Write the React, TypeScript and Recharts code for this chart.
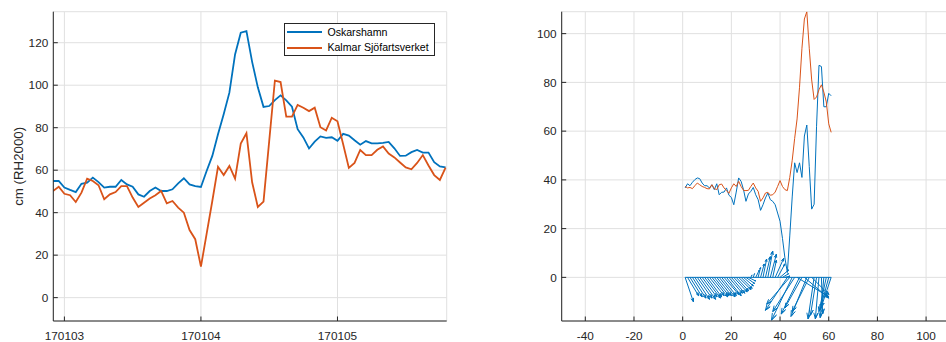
import { LineChart, Line, XAxis, YAxis, CartesianGrid, Legend } from "recharts";

const FONT = '"Liberation Sans", Arial, Helvetica, sans-serif';
const AXIS = "#262626";
const GRID = "#e0e0e0";
const BLUE = "#0072BD";
const ORANGE = "#D95319";

// left panel: hourly sea level, hours counted from 170103 00:00
const HOURS = [
  -2, -1, 0, 1, 2, 3, 4, 5, 6, 7, 8, 9, 10, 11, 12, 13, 14, 15, 16, 17,
  18, 19, 20, 21, 22, 23, 24, 25, 26, 27, 28, 29, 30, 31, 32, 33, 34, 35, 36, 37,
  38, 39, 40, 41, 42, 43, 44, 45, 46, 47, 48, 49, 50, 51, 52, 53, 54, 55, 56, 57,
  58, 59, 60, 61, 62, 63, 64, 65, 66, 67,
];
const OSKARSHAMN = [
  54.9, 54.9, 51.8, 50.7, 49.7, 53.6, 54.1, 56.5, 54.4, 51.8,
  52.2, 52.2, 55.4, 53.3, 52.2, 48.6, 47.5, 50.2, 51.8, 50.2,
  50.2, 51.0, 53.8, 56.2, 53.3, 52.5, 52.1, 59.6, 66.7, 76.9,
  86.3, 96.5, 114.5, 124.7, 125.5, 111, 99, 89.8, 90.2, 93,
  95.2, 92.9, 89.9, 79.3, 75.4, 70.2, 73.4, 75.9, 75.2, 75.5,
  73.8, 77.1, 76.3, 74.1, 72, 73.7, 72.6, 72.6, 72.9, 73.3,
  70.3, 66.7, 66.8, 68.5, 69.5, 68.3, 68.3, 63.8, 61.8, 61.3,
];
const KALMAR = [
  50.2, 52.2, 48.9, 48.2, 45.0, 49.4, 56.0, 54.9, 52.9, 46.3,
  48.6, 49.7, 52.5, 52.5, 47.1, 42.7, 44.7, 46.7, 48.2, 50.2,
  44.4, 45.5, 42.4, 40.0, 31.8, 27.5, 14.6, 30.0, 45.5, 61.6,
  57.7, 62.0, 56.0, 72.5, 77.4, 54.3, 42.7, 45.2, 73.7, 102.2,
  101.5, 85.2, 85.2, 90.7, 89.4, 87.8, 89.4, 80.2, 78.7, 84.7,
  83.0, 72.2, 61.1, 63.4, 69.5, 67.1, 67.1, 69.6, 71.2, 67.8,
  66.0, 63.6, 61.3, 60.4, 63.4, 67.1, 62.2, 57.7, 55.4, 61.2,
];
const SERIES_NAMES = ["Oskarshamn", "Kalmar Sjöfartsverket"];
const DAY_TICKS = [0, 24, 48];
const DAY_LABELS = ["170103", "170104", "170105"];
const LEVEL_TICKS = [0, 20, 40, 60, 80, 100, 120];

// right panel
const STEPS = [
  1, 2, 3, 4, 5, 6, 7, 8, 9, 10, 11, 12, 13, 14, 15, 16, 17, 18, 19, 20,
  21, 22, 23, 24, 25, 26, 27, 28, 29, 30, 31, 32, 33, 34, 35, 36, 37, 38, 39, 40,
  41, 42, 43, 44, 45, 46, 47, 48, 49, 50, 51, 52, 53, 54, 55, 56, 57, 58, 59, 60, 61,
];
const RIGHT_BLUE = [
  36.7, 38.4, 37.6, 39.0, 40.1, 40.8, 40.5, 38.7, 37.6, 37.6,
  36.7, 38.0, 36.0, 38.4, 33.9, 34.9, 35.0, 36.7, 33.7, 32.8,
  29.8, 35.0, 40.8, 39.4, 36.0, 31.2, 34.2, 35.3, 36.9, 33.9,
  31.9, 27.5, 29.8, 32.6, 34.6, 31.9, 31.2, 29.8, 26.4, 23.0,
  16, 8, 2, 17, 33, 47, 43, 47, 41, 58,
  62.5, 45.5, 28, 30, 62, 87, 86.5, 70, 70, 75.5, 74.5,
];
const RIGHT_ORANGE = [
  37.3, 36.7, 36.9, 36.4, 37.6, 38.7, 38.0, 37.3, 36.9, 36.4,
  36.3, 38.0, 36.4, 36.0, 38.0, 38.3, 36.7, 35.6, 34.5, 36.7,
  38.4, 37.3, 39.4, 37.3, 35.7, 35.6, 35.7, 37.3, 38.7, 36.7,
  35.3, 31.2, 32.6, 34.6, 34.9, 33.7, 33.9, 35.0, 37.3, 39.7,
  37.3, 36.0, 35.6, 41, 48, 57, 65, 78, 94, 106,
  109, 94, 81, 73, 74, 77, 79, 76, 72, 63, 59.5,
];
const WIND_U = [
  3.4, 4.5, 5, 5.5, 6, 6, 6.5, 6, 6.5, 6,
  6, 6.5, 6, 6, 6.5, 6, 6, 6, 5.5, 5.5,
  5.5, 5, 5, 4.5, 4, 3.5, 3, 0.5, 0.5, 1.5,
  1, 1.5, 1.5, 2, 2, 2.5, 1.5, 3.5, 3, 3.5,
  2.5, 2, -9, -9.5, -8.5, -9, 13, -7.5, -7, 10,
  -6.5, -7, 7, -2.5, -2.5, -1.5, 0.5, -1.5, -3, -3.5, -4,
];
const WIND_V = [
  -10, -7.5, -8, -8.5, -9, -8.5, -9, -8, -8.5, -8,
  -7.5, -8, -7.5, -7.5, -8, -7.5, -7, -7.5, -6.5, -6.5,
  -6, -5.5, -5, -4.5, -3.5, -2.5, -1.5, 1, 1.5, 3,
  4, 5.5, 7.5, 8.5, 10.8, 9.5, 7, 7.8, 5.5, 3,
  1.5, 0.5, -13.5, -11, -17.5, -14, -8, -15, -12.5, -8.5,
  -16, -14, -7, -17, -15.5, -17, -15, -16.5, -14, -13, -12,
];
const BASE_X = [1, 61];
const RIGHT_X_TICKS = [-40, -20, 0, 20, 40, 60, 80, 100];
const RIGHT_Y_TICKS = [0, 20, 40, 60, 80, 100];

const leftRows = HOURS.map((t, i) => ({ t, osk: OSKARSHAMN[i], kal: KALMAR[i] }));
const blueRows = STEPS.map((x, i) => ({ x, y: RIGHT_BLUE[i] }));
const orangeRows = STEPS.map((x, i) => ({ x, y: RIGHT_ORANGE[i] }));
const baseRows = BASE_X.map((x) => ({ x, y: 0 }));

// quiver arrows: shaft + two head wings, broken by nulls
const HEAD = 0.14;
const WING = 0.35;
const arrowRows = STEPS.flatMap((x0, i) => {
  const u = WIND_U[i];
  const v = WIND_V[i];
  const tx = x0 + u;
  return [
    { x: x0, y: 0 },
    { x: tx, y: v },
    { x: tx - HEAD * (u + WING * v), y: v - HEAD * (v - WING * u) },
    { x: tx, y: v },
    { x: tx - HEAD * (u - WING * v), y: v - HEAD * (v + WING * u) },
    { x: tx, y: null },
  ];
});

const tickText = { fill: AXIS, fontSize: 11.8, fontFamily: FONT };

function BottomTick({ x, y, payload, labels }: any) {
  const text = labels ? labels[DAY_TICKS.indexOf(payload.value)] : payload.value;
  return (
    <g>
      <line x1={x} y1={y} x2={x} y2={y - 4.5} stroke={AXIS} />
      <text x={x} y={y + 18.5} textAnchor="middle" {...tickText}>{text}</text>
    </g>
  );
}

function LeftTick({ x, y, payload }: any) {
  return (
    <g>
      <line x1={x} y1={y} x2={x + 4.5} y2={y} stroke={AXIS} />
      <text x={x - 5} y={y} dy="0.36em" textAnchor="end" {...tickText}>{payload.value}</text>
    </g>
  );
}

function LegendBox({ payload }: any) {
  const items = [...(payload || [])].sort(
    (a: any, b: any) => SERIES_NAMES.indexOf(a.value) - SERIES_NAMES.indexOf(b.value)
  );
  return (
    <div style={{ width: 151, height: 33, boxSizing: "border-box", border: `1px solid ${AXIS}`, background: "#fff", paddingTop: 0.5, fontFamily: FONT, fontSize: 10.6, color: "#000" }}>
      {items.map((entry: any) => (
        <div key={entry.value} style={{ display: "flex", alignItems: "center", height: 15.4 }}>
          <svg width={35} height={4} style={{ marginLeft: 2.4, flex: "none" }}>
            <line x1={0} y1={2} x2={35} y2={2} stroke={entry.color} strokeWidth={2} />
          </svg>
          <span style={{ marginLeft: 5, whiteSpace: "nowrap", lineHeight: 1 }}>{entry.value}</span>
        </div>
      ))}
    </div>
  );
}

export default function App() {
  return (
    <div style={{ position: "absolute", left: 0, top: 0, width: 946, height: 342, overflow: "hidden", background: "#fff" }}>
      <div style={{ position: "absolute", left: 0, top: 0 }}>
        <LineChart width={460} height={342} data={leftRows} margin={{ top: 11.7, right: 13.3, bottom: 0, left: 0 }}>
          <CartesianGrid stroke={GRID} />
          <XAxis dataKey="t" type="number" domain={[-1.95, 67.2]} allowDataOverflow ticks={DAY_TICKS} interval={0}
            height={21} stroke={AXIS} tickLine={false} tickSize={0} tickMargin={0}
            tick={(p: any) => <BottomTick {...p} labels={DAY_LABELS} />} />
          <XAxis xAxisId="top" orientation="top" type="number" domain={[-1.95, 67.2]} allowDataOverflow ticks={DAY_TICKS}
            interval={0} height={0} mirror tick={false} tickSize={4.5} stroke={AXIS} />
          <YAxis type="number" domain={[-11, 134.6]} allowDataOverflow ticks={LEVEL_TICKS} interval={0} width={53.3}
            stroke={AXIS} tickLine={false} tickSize={0} tickMargin={0} tick={LeftTick}
            label={{ value: "cm (RH2000)", angle: -90, position: "insideLeft", offset: 18.3,
              style: { textAnchor: "middle", fill: AXIS, fontSize: 13.3, fontFamily: FONT } }} />
          <YAxis yAxisId="right" orientation="right" type="number" domain={[-11, 134.6]} allowDataOverflow ticks={LEVEL_TICKS}
            interval={0} width={0} mirror tick={false} tickSize={4.5} stroke={AXIS} />
          <Line dataKey="osk" name={SERIES_NAMES[0]} stroke={BLUE} strokeWidth={1.8} dot={false} isAnimationActive={false} />
          <Line dataKey="kal" name={SERIES_NAMES[1]} stroke={ORANGE} strokeWidth={1.8} dot={false} isAnimationActive={false} />
          <Legend layout="vertical" align="center" verticalAlign="middle" content={LegendBox} itemSorter={null}
            wrapperStyle={{ left: 284, top: 23, width: 151, height: 33 }} />
        </LineChart>
      </div>
      <div style={{ position: "absolute", left: 480, top: 0 }}>
        <LineChart width={468} height={342} margin={{ top: 11.7, right: 0, bottom: 0, left: 0 }}>
          <CartesianGrid stroke={GRID} />
          <XAxis dataKey="x" type="number" domain={[-49.7, 109]} allowDataOverflow ticks={RIGHT_X_TICKS} interval={0}
            height={21} stroke={AXIS} tickLine={false} tickSize={0} tickMargin={0} tick={BottomTick} />
          <XAxis xAxisId="top" orientation="top" type="number" domain={[-49.7, 109]} allowDataOverflow ticks={RIGHT_X_TICKS}
            interval={0} height={0} mirror tick={false} tickSize={4} stroke={AXIS} />
          <YAxis type="number" domain={[-17.9, 109]} allowDataOverflow ticks={RIGHT_Y_TICKS} interval={0} width={81.7}
            stroke={AXIS} tickLine={false} tickSize={0} tickMargin={0} tick={LeftTick} />
          <Line data={baseRows} dataKey="y" stroke={BLUE} strokeWidth={1} dot={false} isAnimationActive={false} />
          <Line data={arrowRows} dataKey="y" stroke={BLUE} strokeWidth={1} dot={false} connectNulls={false} isAnimationActive={false} />
          <Line data={blueRows} dataKey="y" stroke={BLUE} strokeWidth={1} dot={false} isAnimationActive={false} />
          <Line data={orangeRows} dataKey="y" stroke={ORANGE} strokeWidth={1} dot={false} isAnimationActive={false} />
        </LineChart>
      </div>
    </div>
  );
}
